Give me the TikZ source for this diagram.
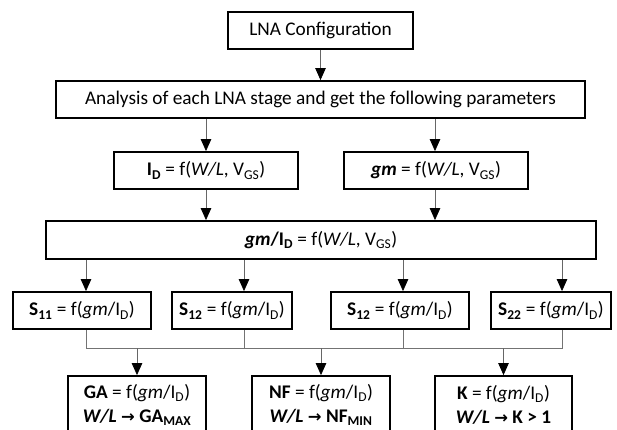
\documentclass[tikz,border=0pt]{standalone}
\usepackage{fontspec}
\setmainfont{Carlito}
\newfontfamily\symfont[Scale=0.85]{DejaVu Sans}
\usetikzlibrary{positioning,arrows.meta}

\newcommand{\sub}[1]{\textsubscript{#1}}
\newcommand{\fgm}{f(\textit{gm}/I\sub{D})}
\newcommand{\fwl}{f(\textit{W/L}, V\sub{GS})}
\newcommand{\toarr}{{\symfont\bfseries →}}

\begin{document}
\begin{tikzpicture}[x=1pt, y=-1pt,
    box/.style={draw, line width=1.8pt, inner sep=0pt, minimum height=37pt,
      align=center, font=\fontsize{19.3}{24}\selectfont},
    arr/.style={-{Triangle[length=12pt,width=10.5pt,color=black]},
      draw=black!60, line width=0.8pt},
    link/.style={draw=black!55, line width=0.8pt}]
    \useasboundingbox (0,0) rectangle (617,430);
    % top part
    \node[box, minimum width=185pt] (cfg) at (320.5,30.5) {LNA Configuration};
    \node[box, minimum width=529pt] (ana) at (320.5,99.5)
        {Analysis of each LNA stage and get the following parameters};
    \node[box, minimum width=184pt] (id) at (206,170.5) {\textbf{I\sub{D}} = \fwl};
    \node[box, minimum width=184pt] (gm) at (436,170.5) {\textbf{\textit{gm}} = \fwl};
    \node[box, minimum width=550pt, minimum height=38pt] (gmid) at (321,240)
        {\textbf{\textit{gm}/I\sub{D}} = \fwl};
    % s-parameters
    \node[box, minimum width=138pt] (s11) at (82,310.5) {\textbf{S\sub{11}} = \fgm};
    \node[box, minimum width=120pt] (s12) at (232,310.5) {\textbf{S\sub{12}} = \fgm};
    \node[box, minimum width=138pt] (s12b) at (400,310.5) {\textbf{S\sub{12}} = \fgm};
    \node[box, minimum width=120pt] (s22) at (551,310.5) {\textbf{S\sub{22}} = \fgm};
    % results
    \node[box, minimum width=138pt, minimum height=58pt] (ga) at (137,405)
        {\textbf{GA} = \fgm\\ \textbf{\textit{W/L} \toarr\ GA\sub{MAX}}};
    \node[box, minimum width=138pt, minimum height=58pt] (nf) at (321,405)
        {\textbf{NF} = \fgm\\ \textbf{\textit{W/L} \toarr\ NF\sub{MIN}}};
    \node[box, minimum width=137pt, minimum height=58pt] (k) at (503.5,405)
        {\textbf{K} = \fgm\\ \textbf{\textit{W/L} \toarr\ K > 1}};
    \coordinate (join) at (0,348);

    \draw[arr] (cfg) -- (ana);
    \draw[arr] (ana.south -| id.north) -- (id.north);
    \draw[arr] ([xshift=-1]ana.south -| gm.north) -- ([xshift=-1]gm.north);
    \draw[arr] (id.south) -- (gmid.north -| id.south);
    \draw[arr] ([xshift=-1]gm.south) -- ([xshift=-1]gmid.north -| gm.south);
    \draw[arr] ([xshift=4]s11.north |- gmid.south) -- ([xshift=4]s11.north);
    \draw[arr] ([xshift=12]s12.north |- gmid.south) -- ([xshift=12]s12.north);
    \draw[arr] ([xshift=3]s12b.north |- gmid.south) -- ([xshift=3]s12b.north);
    \draw[arr] ([xshift=11]s22.north |- gmid.south) -- ([xshift=11]s22.north);

    \draw[link] ([xshift=4]s11.south) |- ([xshift=11]s22.south |- join)
        -- ([xshift=11]s22.south);
    \draw[link] ([xshift=12]s12.south) -- ([xshift=12]s12.south |- join);
    \draw[link] ([xshift=3]s12b.south) -- ([xshift=3]s12b.south |- join);
    \draw[arr] (ga.north |- join) -- (ga.north);
    \draw[arr] (nf.north |- join) -- (nf.north);
    \draw[arr] (k.north |- join) -- (k.north);
\end{tikzpicture}
\end{document}
